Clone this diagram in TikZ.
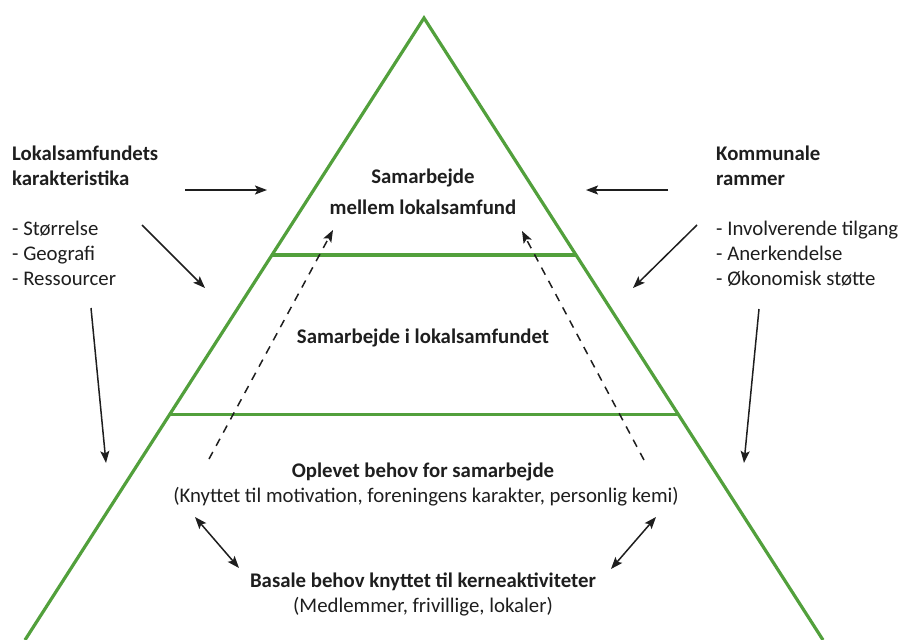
\documentclass[tikz,border=0pt]{standalone}
\usepackage{fontspec}
\setmainfont{Carlito}
\usetikzlibrary{arrows.meta,calc}
\definecolor{pgreen}{RGB}{82,160,60}
\definecolor{ink}{RGB}{30,30,30}
\tikzset{
  tip/.tip={Stealth[length=12pt,width=9pt,inset=2.5pt]},
  tri/.style={draw=pgreen, line width=3.2pt, line join=miter},
  band/.style={draw=pgreen, line width=3.2pt},
  arr/.style={draw=ink, line width=1.5pt, -tip},
  darr/.style={draw=ink, line width=1.5pt, tip-tip},
  dasharr/.style={draw=ink, line width=1.5pt, dash pattern=on 8pt off 7pt, -tip},
  txt/.style={text=ink, font=\fontsize{20.8}{25}\selectfont, inner sep=0pt, anchor=base},
  btxt/.style={txt, font=\fontsize{20.8}{25}\selectfont\bfseries},
  side/.style={text=ink, font=\fontsize{20.8}{25}\selectfont, inner sep=0pt, anchor=base west, align=left},
  bside/.style={side, font=\fontsize{20.8}{25}\selectfont\bfseries},
}
\begin{document}
\begin{tikzpicture}[x=1pt,y=-1pt]
\useasboundingbox (0,0) rectangle (903,640);
\clip (0,0) rectangle (903,640);
% pyramid
\coordinate (apex) at (424,18);
\coordinate (bl) at (25,640);
\coordinate (br) at (823,640);
\draw[tri] (bl) -- (apex) -- (br);
\coordinate (l1) at ($(apex)!0.381!(bl)$);
\coordinate (r1) at ($(apex)!0.381!(br)$);
\coordinate (l2) at ($(apex)!0.638!(bl)$);
\coordinate (r2) at ($(apex)!0.638!(br)$);
\draw[band] (l1) -- (r1);
\draw[band] (l2) -- (r2);
% center texts
\node[btxt] (t1a) at (423,183) {Samarbejde};
\node[btxt] (t1b) at (423,214) {mellem lokalsamfund};
\node[btxt] (t2) at (423,343) {Samarbejde i lokalsamfundet};
\node[btxt] (t3a) at (423,477) {Oplevet behov for samarbejde};
\node[txt] (t3b) at (426,502) {(Knyttet til motivation, foreningens karakter, personlig kemi)};
\node[btxt] (t4a) at (423,587) {Basale behov knyttet til kerneaktiviteter};
\node[txt] (t4b) at (423,612) {(Medlemmer, frivillige, lokaler)};
% left side texts
\node[bside] (lh1) at (12,160) {Lokalsamfundets};
\node[bside] (lh2) at (12,185) {karakteristika};
\node[side] (li1) at (12,235) {- Størrelse};
\node[side] (li2) at (12,260) {- Geografi};
\node[side] (li3) at (12,285) {- Ressourcer};
% right side texts
\node[bside] (rh1) at (716,160) {Kommunale};
\node[bside] (rh2) at (716,185) {rammer};
\node[side] (ri1) at (716,235) {- Involverende tilgang};
\node[side] (ri2) at (716,260) {- Anerkendelse};
\node[side] (ri3) at (716,285) {- Økonomisk støtte};
% arrow coordinates
\coordinate (lha) at (185,190); \coordinate (lhb) at (267,190);
\coordinate (lda) at (142,225); \coordinate (ldb) at (205,288);
\coordinate (lva) at (91,308);  \coordinate (lvb) at (106,463);
\coordinate (rha) at (668,190); \coordinate (rhb) at (586,190);
\coordinate (rda) at (697,225); \coordinate (rdb) at (633,288);
\coordinate (rva) at (759,309); \coordinate (rvb) at (744,463);
\coordinate (dla) at (209,459); \coordinate (dlb) at (333,230);
\coordinate (dra) at (644,460); \coordinate (drb) at (522,231);
\coordinate (bla) at (195,517); \coordinate (blb) at (239,568);
\coordinate (bra) at (656,517); \coordinate (brb) at (611,569);
\draw[arr] (lha) -- (lhb);
\draw[arr] (lda) -- (ldb);
\draw[arr] (lva) -- (lvb);
\draw[arr] (rha) -- (rhb);
\draw[arr] (rda) -- (rdb);
\draw[arr] (rva) -- (rvb);
\draw[dasharr] (dla) -- (dlb);
\draw[dasharr] (dra) -- (drb);
\draw[darr] (bla) -- (blb);
\draw[darr] (bra) -- (brb);
\end{tikzpicture}
\end{document}
